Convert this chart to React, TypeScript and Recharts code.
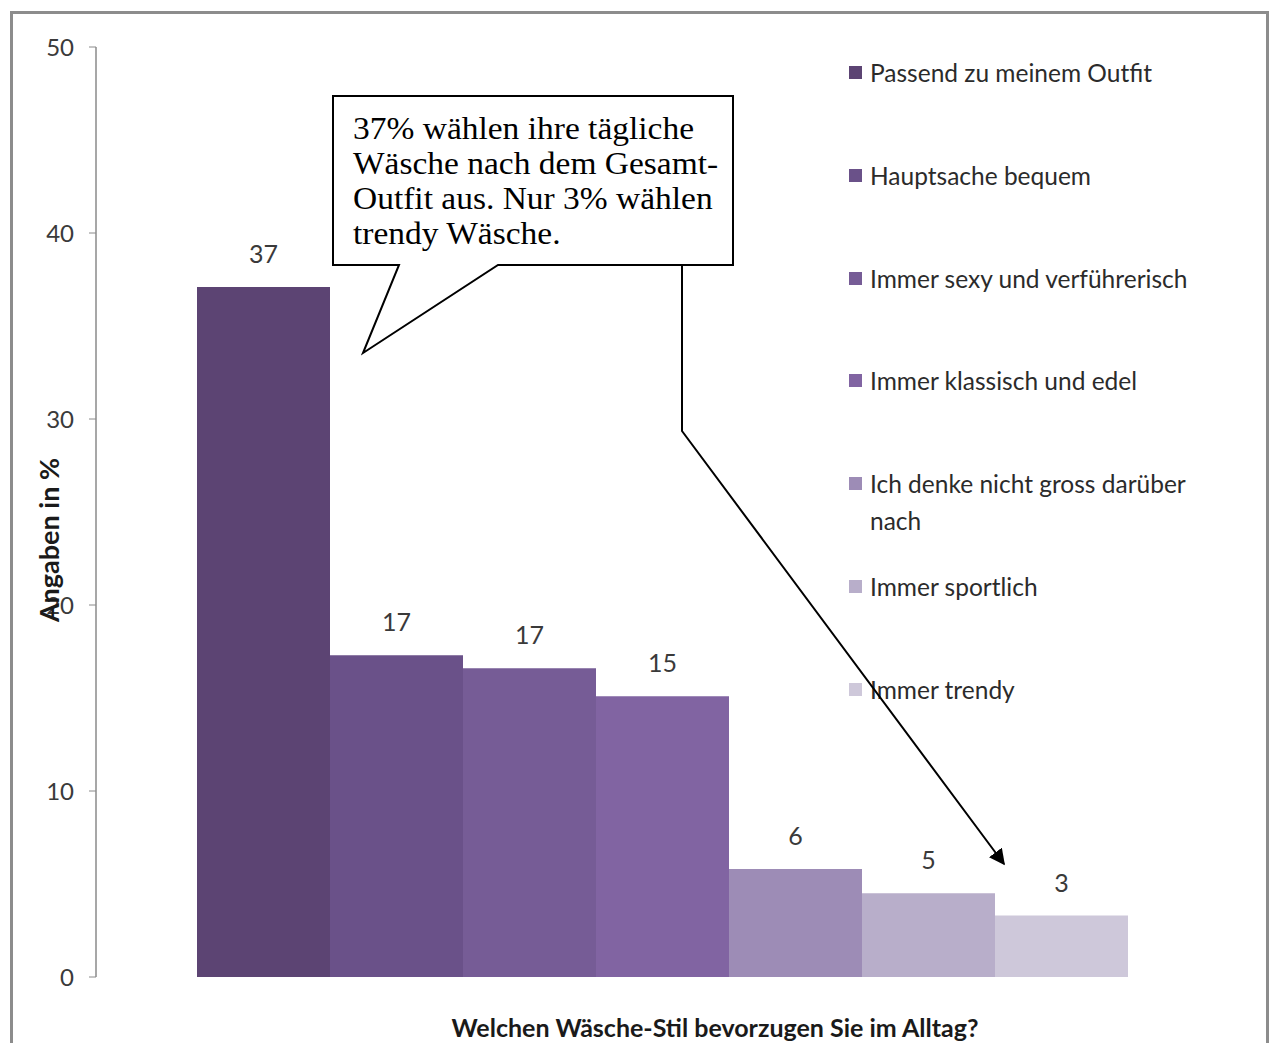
import { BarChart, Bar, XAxis, YAxis, Legend, LabelList } from "recharts";

const SERIES = [
  "Passend zu meinem Outfit",
  "Hauptsache bequem",
  "Immer sexy und verführerisch",
  "Immer klassisch und edel",
  "Ich denke nicht gross darüber nach",
  "Immer sportlich",
  "Immer trendy",
];

// legend text as it wraps in the original
const LEGEND_LINES = [
  ["Passend zu meinem Outfit"],
  ["Hauptsache bequem"],
  ["Immer sexy und verführerisch"],
  ["Immer klassisch und edel"],
  ["Ich denke nicht gross darüber", "nach"],
  ["Immer sportlich"],
  ["Immer trendy"],
];

const VALUES = [37.1, 17.3, 16.6, 15.1, 5.8, 4.5, 3.3];
const LABELS = ["37", "17", "17", "15", "6", "5", "3"];
const Y_TICKS = [0, 10, 20, 30, 40, 50];

const COLOURS = ["#5c4473", "#6a5189", "#765c96", "#8164a2", "#9d8cb6", "#b8aeca", "#cec8da"];

const CALLOUT = ["37% wählen ihre tägliche", "Wäsche nach dem Gesamt-", "Outfit aus. Nur 3% wählen", "trendy Wäsche."];

const data = [
  SERIES.reduce<Record<string, number | string>>(
    (row, _, i) => {
      row[`s${i}`] = VALUES[i];
      return row;
    },
    { name: "Alltag" }
  ),
];

const FONT = "Lato, 'Open Sans', sans-serif";

function LegendBox() {
  return (
    <div style={{ fontFamily: FONT, fontSize: 24.5, color: "#2b2b2b" }}>
      {LEGEND_LINES.map((lines, i) => (
        <div key={i} style={{ position: "relative", height: 102.8, lineHeight: "37px" }}>
          <span
            style={{
              position: "absolute",
              left: 0,
              top: 12,
              width: 13,
              height: 13,
              background: COLOURS[i],
            }}
          />
          <div style={{ position: "absolute", left: 21, top: 0, whiteSpace: "nowrap" }}>
            {lines.map((l, j) => (
              <div key={j}>{l}</div>
            ))}
          </div>
        </div>
      ))}
    </div>
  );
}

export default function App() {
  return (
    <div style={{ position: "absolute", left: 0, top: 0, width: 1274, height: 1043, background: "#fff", overflow: "hidden" }}>
      <div
        style={{
          position: "absolute",
          left: 10,
          top: 11,
          width: 1259,
          height: 1100,
          border: "3px solid #8c8c8c",
          boxSizing: "border-box",
        }}
      />
      <div style={{ position: "absolute", left: 0, top: 0 }}>
        <BarChart
          width={1274}
          height={1043}
          data={data}
          margin={{ top: 47, right: 45, bottom: 66, left: 0 }}
          barCategoryGap={101}
          barGap={0}
        >
          <XAxis dataKey="name" hide />
          <YAxis
            width={96}
            domain={[0, 50]}
            ticks={Y_TICKS}
            interval={0}
            axisLine={{ stroke: "#8a8a8a", strokeWidth: 1.5 }}
            tickLine={{ stroke: "#8a8a8a" }}
            tickSize={7}
            tickMargin={15}
            tick={{ fill: "#3a3a3a", fontSize: 24, fontFamily: FONT }}
          />
          <Legend
            layout="vertical"
            align="center"
            verticalAlign="middle"
            wrapperStyle={{ position: "absolute", left: 849, top: 54, width: 410 }}
            content={() => <LegendBox />}
          />
          {SERIES.map((s, i) => (
            <Bar key={s} dataKey={`s${i}`} name={s} fill={COLOURS[i]} isAnimationActive={false}>
              <LabelList
                position="top"
                offset={24}
                formatter={() => LABELS[i]}
                style={{ fill: "#3a3a3a", fontSize: 25, fontFamily: FONT }}
              />
            </Bar>
          ))}
        </BarChart>
      </div>
      <svg width={1274} height={1043} style={{ position: "absolute", left: 0, top: 0, pointerEvents: "none" }}>
        <defs>
          <marker id="arrowHead" viewBox="0 0 10 10" refX="9" refY="5" markerWidth="8" markerHeight="8" orient="auto">
            <path d="M0,0 L10,5 L0,10 z" fill="#000" />
          </marker>
        </defs>
        <text
          x={48}
          y={540}
          transform="rotate(-90 48 540)"
          textAnchor="middle"
          dominantBaseline="central"
          fontFamily={FONT}
          fontWeight="bold"
          fontSize={27}
          fill="#1a1a1a"
        >
          Angaben in %
        </text>
        <text
          x={715}
          y={1027}
          textAnchor="middle"
          dominantBaseline="central"
          fontFamily={FONT}
          fontWeight="bold"
          fontSize={25}
          fill="#1a1a1a"
        >
          Welchen Wäsche-Stil bevorzugen Sie im Alltag?
        </text>
        <path
          d="M333,96 L733,96 L733,265 L498,265 L363,353 L399,265 L333,265 Z"
          fill="#fff"
          stroke="#000"
          strokeWidth={2}
        />
        <g transform="translate(353,0) scale(1.08,1) translate(-353,0)">
          {CALLOUT.map((line, i) => (
            <text key={i} x={353} y={139 + i * 35} fontFamily="'Liberation Serif', 'Times New Roman', serif" fontSize={31} fill="#000">
              {line}
            </text>
          ))}
        </g>
        <polyline
          points="682,265 682,431 1004,864"
          fill="none"
          stroke="#000"
          strokeWidth={2}
          markerEnd="url(#arrowHead)"
        />
      </svg>
    </div>
  );
}
